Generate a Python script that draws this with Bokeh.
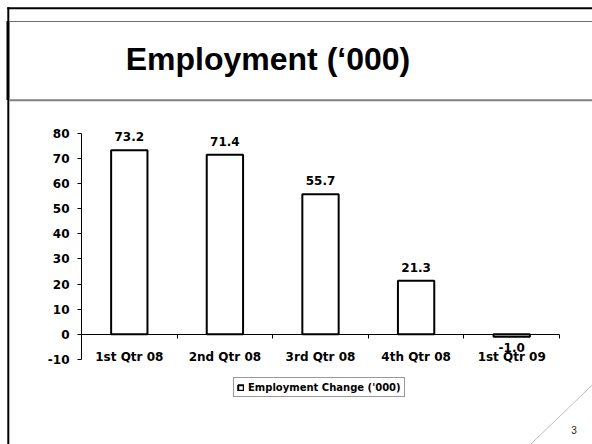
from bokeh.plotting import figure
from bokeh.models import (ColumnDataSource, Range1d, LinearAxis, FixedTicker, LabelSet,
                          Legend, LegendItem, Label, BoxAnnotation, PolyAnnotation)
from bokeh.core.properties import value
from bokeh.embed import file_html
from bokeh.resources import INLINE

# ---- data ----
categories = ["1st Qtr 08", "2nd Qtr 08", "3rd Qtr 08", "4th Qtr 08", "1st Qtr 09"]
employment_change = [73.2, 71.4, 55.7, 21.3, -1.0]
y_ticks = [-10, 0, 10, 20, 30, 40, 50, 60, 70, 80]
title_text = "Employment (\u2018000)"
series_name = "Employment Change ('000)"
page_number = "3"

TFONT = "Liberation Sans"
CFONT = "DejaVu Sans"
W, H = 592, 444
AX_L, AX_R = 81.0, 559.0        # category axis span (px)
AX_T, AX_B = 132.7, 359.0       # value axis span, top tick .. bottom tick (px)

n = len(categories)
ux = (AX_R - AX_L) / n
uy = (AX_B - AX_T) / (y_ticks[-1] - y_ticks[0])
x_range = Range1d(0 - AX_L / ux, n + (W - AX_R) / ux)
y_range = Range1d(y_ticks[0] - (H - AX_B) / uy, y_ticks[-1] + AX_T / uy)

x_pos = [i + 0.5 for i in range(n)]
src = ColumnDataSource(dict(
    x=x_pos,
    value=employment_change,
    label=[f"{v:.1f}" for v in employment_change],
    base=["bottom" if v >= 0 else "top" for v in employment_change],
    off=[9 if v >= 0 else -6 for v in employment_change],
))

p = figure(width=W, height=H, output_backend="svg", toolbar_location=None, title=None,
           x_range=x_range, y_range=y_range, x_axis_type=None, y_axis_type=None,
           min_border=0, min_border_left=0, min_border_right=0,
           min_border_top=0, min_border_bottom=0)
p.outline_line_color = None
p.xgrid.visible = False
p.ygrid.visible = False
p.background_fill_color = "white"
p.border_fill_color = "white"

# value axis
yaxis = LinearAxis(fixed_location=0, bounds=(y_ticks[0], y_ticks[-1]),
                   ticker=FixedTicker(ticks=y_ticks),
                   major_label_overrides={float(t): str(t) for t in y_ticks})
yaxis.major_tick_out = 4
yaxis.major_tick_in = 0
yaxis.minor_tick_line_color = None
yaxis.axis_line_color = "black"
yaxis.major_tick_line_color = "black"
yaxis.major_label_text_font = CFONT
yaxis.major_label_text_font_style = "bold"
yaxis.major_label_text_font_size = "12px"
yaxis.major_label_text_color = "black"
yaxis.major_label_standoff = 8
p.add_layout(yaxis, "left")

# category axis line at zero with boundary ticks
xline = LinearAxis(fixed_location=0, bounds=(0, n),
                   ticker=FixedTicker(ticks=list(range(n + 1))))
xline.axis_line_color = "black"
xline.major_tick_line_color = "black"
xline.minor_tick_line_color = None
xline.major_tick_out = 4
xline.major_tick_in = 0
xline.major_label_text_font_size = "0px"
xline.major_label_text_color = None
p.add_layout(xline, "below")

# category labels (low position)
xlab = LinearAxis(fixed_location=y_ticks[0], ticker=FixedTicker(ticks=x_pos),
                  major_label_overrides={x: c for x, c in zip(x_pos, categories)})
xlab.axis_line_color = None
xlab.major_tick_line_color = None
xlab.minor_tick_line_color = None
xlab.major_tick_out = 0
xlab.major_tick_in = 0
xlab.major_label_standoff = -10
xlab.major_label_text_font = CFONT
xlab.major_label_text_font_style = "bold"
xlab.major_label_text_font_size = "12px"
xlab.major_label_text_color = "black"
p.add_layout(xlab, "below")

bars = p.vbar(x="x", top="value", bottom=0, width=0.38, source=src,
              fill_color="white", line_color="black", line_width=2)

labels = LabelSet(x="x", y="value", text="label", source=src,
                  text_align="center", text_baseline="base", y_offset="off",
                  text_font=value(CFONT), text_font_style="bold", text_font_size="12px",
                  text_color="black")
p.add_layout(labels)

# ---- slide decoration (screen px; frame == canvas, y measured from bottom) ----
def sx(x):
    return x

def sy(y):
    return H - y

legend = Legend(items=[LegendItem(label=value(series_name), renderers=[bars])],
                location=(sx(233), sy(397)))
legend.border_line_color = "#333333"
legend.border_line_width = 1
legend.background_fill_color = "white"
legend.background_fill_alpha = 1
legend.padding = 3
legend.margin = 0
legend.spacing = 0
legend.glyph_width = 7
legend.glyph_height = 7
legend.label_standoff = 4
legend.label_height = 12
legend.label_text_font = CFONT
legend.label_text_font_style = "bold"
legend.label_text_font_size = "10px"
legend.label_text_color = "black"
p.add_layout(legend)

def hbox(x0, x1, y0, y1, color):
    return BoxAnnotation(left=sx(x0), right=sx(x1), top=sy(y0), bottom=sy(y1),
                         left_units="screen", right_units="screen",
                         top_units="screen", bottom_units="screen",
                         fill_color=color, fill_alpha=1, line_color=None, level="overlay")

p.add_layout(hbox(6.8, W, 6.8, 8.8, "black"))          # top border
p.add_layout(hbox(6.8, 8.8, 6.8, H, "black"))          # left border
p.add_layout(hbox(6.0, 8.8, 20.5, 99.5, "black"))      # heavier left edge by title
p.add_layout(hbox(8.8, W, 20.5, 21.5, "#6e6e6e"))      # thin rule above title
p.add_layout(hbox(8.8, W, 98.7, 100.7, "#808080"))     # rule below title

diag = PolyAnnotation(xs=[sx(592), sx(529.9)], ys=[sy(384.3), sy(444)],
                      xs_units="screen", ys_units="screen",
                      fill_alpha=0, line_color="#222222", line_width=1, level="overlay")
p.add_layout(diag)

title = Label(x=sx(267.5), y=sy(58.5), x_units="screen", y_units="screen", text=title_text,
              text_align="center", text_baseline="middle", text_font=TFONT,
              text_font_style="bold", text_font_size="32px", text_color="black")
p.add_layout(title)

pn = Label(x=sx(573.5), y=sy(429.5), x_units="screen", y_units="screen", text=page_number,
           text_align="center", text_baseline="middle", text_font=TFONT,
           text_font_size="10px", text_color="#222222")
p.add_layout(pn)

open("out.html", "w").write(file_html(p, INLINE))
